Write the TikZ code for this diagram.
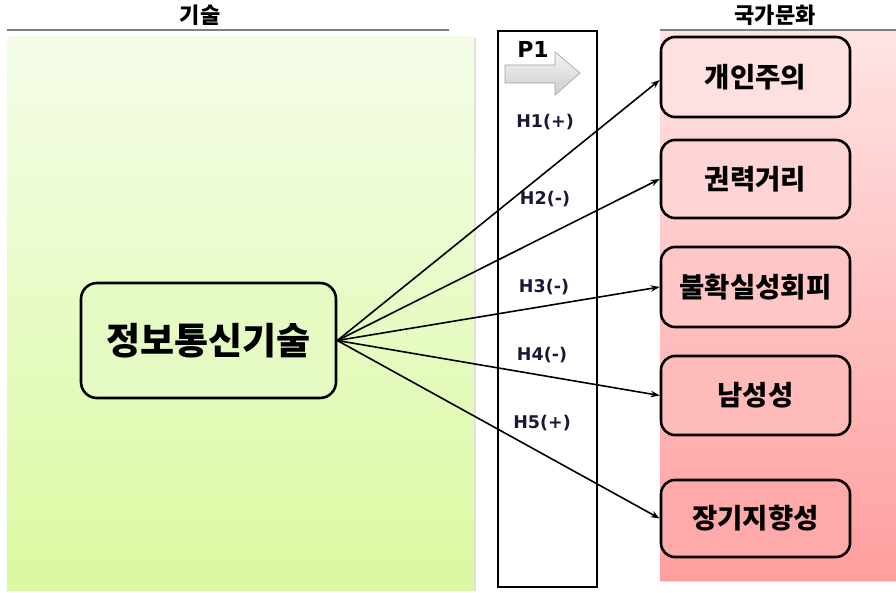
\documentclass[tikz,border=0pt]{standalone}
\usepackage{fontspec}
\newfontfamily\kr{Noto Sans CJK KR}
\newfontfamily\lat{DejaVu Sans}
\usetikzlibrary{arrows.meta,shadows}
\definecolor{hcol}{RGB}{25,25,55}
\definecolor{gtop}{RGB}{245,253,233}
\definecolor{gbot}{RGB}{218,249,160}
\definecolor{gmid}{RGB}{230,251,196}
\definecolor{ptop}{RGB}{255,228,228}
\definecolor{pbot}{RGB}{255,158,158}
\tikzset{
  boxr/.style={draw=black,line width=2.6pt,rounded corners=14pt,minimum width=189pt,font=\kr\bfseries\fontsize{27.5}{30}\selectfont},
  hlab/.style={font=\lat\bfseries\fontsize{17.5}{20}\selectfont,text=hcol},
  conn/.style={line width=1.6pt,-{Stealth[length=9pt,width=6.5pt]}},
  hdr/.style={font=\kr\bfseries\fontsize{22}{25}\selectfont},
}
\begin{document}
\begin{tikzpicture}[x=1pt,y=-1pt]
\useasboundingbox[fill=white] (0,0) rectangle (896,593);
% headers and lines
\node[hdr] (h1) at (200,15) {기술};
\node[hdr] (h2) at (775,15) {국가문화};
\draw[line width=1.6pt,draw=gray] (7,30) -- (449,30);
% green panel
\fill[top color=gtop,bottom color=gbot,drop shadow={opacity=0.25,shadow xshift=1.5pt,shadow yshift=-1pt}] (7,37) rectangle (474,590);
% pink panel
\fill[top color=ptop,bottom color=pbot,drop shadow={opacity=0.25,shadow xshift=1pt,shadow yshift=-1.5pt}] (660,30) rectangle (896,580);
\draw[line width=1.6pt,draw=gray] (660,30) -- (896,30);
% middle frame
\draw[line width=2.6pt,fill=white] (498,31) rectangle (597,587);
% P1 arrow
\node[font=\lat\bfseries\fontsize{22}{25}\selectfont] (p1) at (533,49) {P1};
\draw[draw=gray!75,line width=0.6pt,top color=gray!8,bottom color=gray!40]
  (505,65) -- (555,65) -- (555,52) -- (580,73) -- (555,95) -- (555,83) -- (505,83) -- cycle;
% hypothesis labels
\node[hlab] (H1) at (545,122) {H1(+)};
\node[hlab] (H2) at (545,199) {H2(-)};
\node[hlab] (H3) at (544,287) {H3(-)};
\node[hlab] (H4) at (542,355) {H4(-)};
\node[hlab] (H5) at (542,423) {H5(+)};
% center box
\node[draw=black,line width=2.6pt,rounded corners=16pt,fill=gmid,minimum width=255pt,minimum height=115pt,font=\kr\bfseries\fontsize{37}{40}\selectfont] (ict) at (208.5,340.5) {정보통신기술};
% right boxes
\node[boxr,minimum height=80pt,fill={rgb,255:red,255;green,224;blue,224}] (b1) at (755.5,77) {개인주의};
\node[boxr,minimum height=78pt,fill={rgb,255:red,255;green,212;blue,212}] (b2) at (755.5,179) {권력거리};
\node[boxr,minimum height=80pt,fill={rgb,255:red,255;green,198;blue,198}] (b3) at (755.5,287) {불확실성회피};
\node[boxr,minimum height=79pt,fill={rgb,255:red,255;green,186;blue,186}] (b4) at (755.5,395.5) {남성성};
\node[boxr,minimum height=77pt,fill={rgb,255:red,255;green,170;blue,170}] (b5) at (755.5,518.5) {장기지향성};
% connectors
\draw[conn] (ict.east) -- ([yshift=-3pt]b1.west);
\draw[conn] (ict.east) -- (b2.west);
\draw[conn] (ict.east) -- (b3.west);
\draw[conn] (ict.east) -- (b4.west);
\draw[conn] (ict.east) -- (b5.west);
\end{tikzpicture}
\end{document}
